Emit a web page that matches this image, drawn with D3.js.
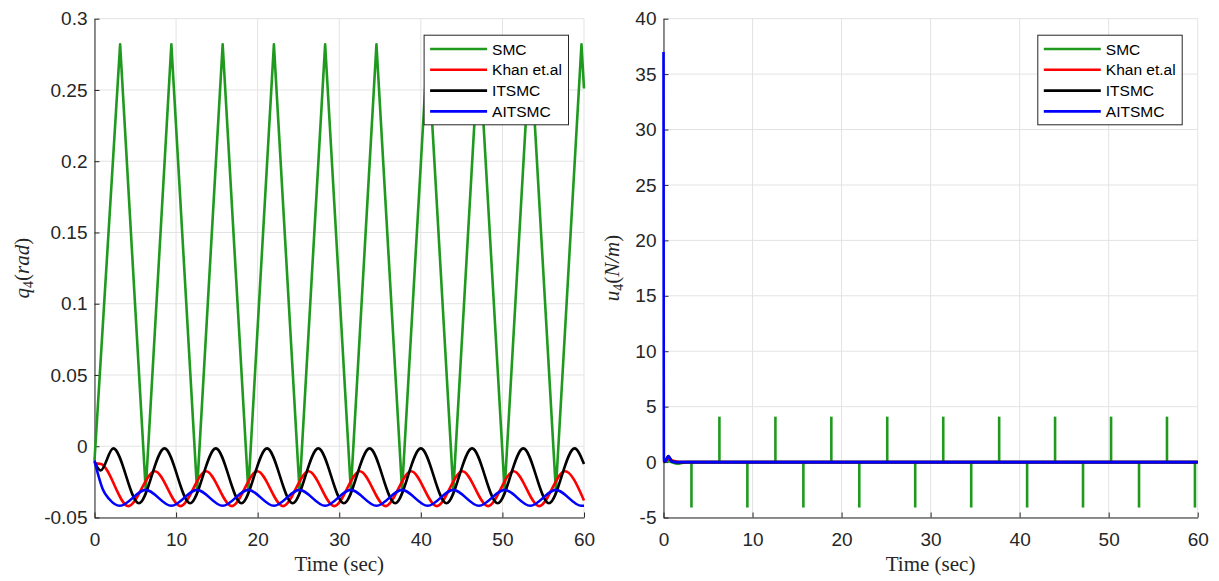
<!DOCTYPE html>
<html>
<head>
<meta charset="utf-8">
<script src="https://cdn.jsdelivr.net/npm/d3@7"></script>
<style>
  html, body { margin: 0; padding: 0; background: #fff; }
  svg { display: block; }
</style>
</head>
<body>
<svg id="chart" width="1219" height="581"></svg>
<script>
// ---------------- DATA ----------------
const seriesNames = ["SMC", "Khan et.al", "ITSMC", "AITSMC"];
const seriesColors = ["#1f9a1f", "#ff0000", "#000000", "#0000ff"];

const timeTicks = [0, 10, 20, 30, 40, 50, 60];
const qTicks = [-0.05, 0, 0.05, 0.1, 0.15, 0.2, 0.25, 0.3];
const qTickLabels = ["-0.05", "0", "0.05", "0.1", "0.15", "0.2", "0.25", "0.3"];
const uTicks = [-5, 0, 5, 10, 15, 20, 25, 30, 35, 40];
const uTickLabels = ["-5", "0", "5", "10", "15", "20", "25", "30", "35", "40"];

// q4 (rad) — left panel
const smcQ_t = [0, 3.14, 6.28, 9.42, 12.57, 15.71, 18.85, 21.99, 25.13, 28.27, 31.42, 34.56, 37.70, 40.84, 43.98, 47.12, 50.27, 53.41, 56.55, 59.69, 60];
const smcQ_v = [-0.010, 0.282, -0.031, 0.282, -0.031, 0.282, -0.031, 0.282, -0.031, 0.282, -0.031, 0.282, -0.031, 0.282, -0.031, 0.282, -0.031, 0.282, -0.031, 0.282, 0.251];

const khanQ_t = [0, 0.8, 4.15, 7.40, 10.54, 13.68, 16.83, 19.97, 23.11, 26.25, 29.39, 32.53, 35.68, 38.82, 41.96, 45.10, 48.24, 51.38, 54.52, 57.66, 60];
const khanQ_v = [-0.012, -0.0125, -0.042, -0.0175, -0.042, -0.0175, -0.042, -0.0175, -0.042, -0.0175, -0.042, -0.0175, -0.042, -0.0175, -0.042, -0.0175, -0.042, -0.0175, -0.042, -0.0175, -0.038];

const itsmcQ_t = [0, 0.75, 2.30, 5.44, 8.58, 11.72, 14.87, 18.01, 21.15, 24.29, 27.43, 30.57, 33.72, 36.86, 40.00, 43.14, 46.28, 49.42, 52.56, 55.70, 58.85, 60];
const itsmcQ_v = [-0.011, -0.017, -0.0015, -0.040, -0.0015, -0.040, -0.0015, -0.040, -0.0015, -0.040, -0.0015, -0.040, -0.0015, -0.040, -0.0015, -0.040, -0.0015, -0.040, -0.0015, -0.040, -0.0015, -0.0125];

const aitsmcQ_t = [0, 0.45, 1.0, 1.8, 3.10, 6.28, 9.42, 12.57, 15.71, 18.85, 21.99, 25.13, 28.27, 31.42, 34.56, 37.70, 40.84, 43.98, 47.12, 50.27, 53.41, 56.55, 59.69, 60];
const aitsmcQ_v = [-0.010, -0.020, -0.030, -0.037, -0.0418, -0.0306, -0.0418, -0.0306, -0.0418, -0.0306, -0.0418, -0.0306, -0.0418, -0.0306, -0.0418, -0.0306, -0.0418, -0.0306, -0.0418, -0.0306, -0.0418, -0.0306, -0.0418, -0.0418];

// u4 (N/m) — right panel
const smcU_t = [0, 0.4, 1.5, 2.6, 60];
const smcU_v = [0, 0.1, -0.15, 0, 0];
const smcSpike_t = [3.14, 6.28, 9.42, 12.57, 15.71, 18.85, 21.99, 25.13, 28.27, 31.42, 34.56, 37.70, 40.84, 43.98, 47.12, 50.27, 53.41, 56.55, 59.69];
const smcSpike_v = [-4.1, 4.1, -4.1, 4.1, -4.1, 4.1, -4.1, 4.1, -4.1, 4.1, -4.1, 4.1, -4.1, 4.1, -4.1, 4.1, -4.1, 4.1, -4.1];

const khanU_t = [0, 0.4, 1.0, 1.8, 60];
const khanU_v = [0, 0.3, 0.15, 0, 0];

const itsmcU_t = [0, 0.2, 0.55, 1.0, 1.5, 60];
const itsmcU_v = [0, 0.1, 0.55, 0.05, 0, 0];

const aitsmcU_t = [0, 0.05, 0.25, 0.55, 0.9, 1.3, 60];
const aitsmcU_v = [37, 0.1, 0.1, 0.55, 0.05, 0, 0];

// ---------------- LAYOUT ----------------
const svg = d3.select("#chart");
const axisColor = "#262626";
const gridColor = "#e3e3e3";
const tickFont = "'Liberation Sans', Arial, sans-serif";
const serifFont = "'Liberation Serif', 'Times New Roman', serif";

const panels = [
  {
    x: d3.scaleLinear().domain([0, 60]).range([94.5, 584]),
    y: d3.scaleLinear().domain([-0.05, 0.3]).range([517.5, 18.7]),
    yTicks: qTicks, yLabels: qTickLabels,
    series: [[smcQ_t, smcQ_v], [khanQ_t, khanQ_v], [itsmcQ_t, itsmcQ_v], [aitsmcQ_t, aitsmcQ_v]],
    curves: [d3.curveLinear, d3.curveMonotoneX, d3.curveMonotoneX, d3.curveMonotoneX],
    spikes: null,
    ylab: {x: 29, sym: "q", rest: ["(", "rad", ")"]}
  },
  {
    x: d3.scaleLinear().domain([0, 60]).range([663.5, 1197.7]),
    y: d3.scaleLinear().domain([-5, 40]).range([517.5, 18.7]),
    yTicks: uTicks, yLabels: uTickLabels,
    series: [[smcU_t, smcU_v], [khanU_t, khanU_v], [itsmcU_t, itsmcU_v], [aitsmcU_t, aitsmcU_v]],
    curves: [d3.curveMonotoneX, d3.curveMonotoneX, d3.curveMonotoneX, d3.curveMonotoneX],
    spikes: [smcSpike_t, smcSpike_v],
    ylab: {x: 619, sym: "u", rest: ["(", "N/m", ")"]}
  }
];

panels.forEach((p, pi) => {
  const g = svg.append("g");
  const [xa, xb] = p.x.range();
  const [ya, yb] = p.y.range();

  // grid
  g.append("g").selectAll("line").data(timeTicks).join("line")
    .attr("x1", d => p.x(d)).attr("x2", d => p.x(d))
    .attr("y1", ya).attr("y2", yb)
    .attr("stroke", gridColor).attr("stroke-width", 1);
  g.append("g").selectAll("line").data(p.yTicks).join("line")
    .attr("x1", xa).attr("x2", xb)
    .attr("y1", d => p.y(d)).attr("y2", d => p.y(d))
    .attr("stroke", gridColor).attr("stroke-width", 1);

  // axes
  const xAxis = d3.axisBottom(p.x).tickValues(timeTicks).tickFormat(d3.format("d"))
    .tickSize(-5).tickSizeOuter(0).tickPadding(15);
  const yAxis = d3.axisLeft(p.y).tickValues(p.yTicks).tickFormat((d, i) => p.yLabels[i])
    .tickSize(-5).tickSizeOuter(0).tickPadding(7);

  const gx = g.append("g").attr("transform", `translate(0,${ya})`).call(xAxis);
  const gy = g.append("g").attr("transform", `translate(${xa},0)`).call(yAxis);
  [gx, gy].forEach(a => {
    a.select(".domain").attr("stroke", axisColor).attr("stroke-width", 1);
    a.selectAll(".tick line").attr("stroke", axisColor);
    a.selectAll(".tick text").attr("fill", axisColor)
      .style("font-family", tickFont).style("font-size", "19px");
  });

  // lines
  const lineG = g.append("g");
  const straight = d3.line().x(d => p.x(d[0])).y(d => p.y(d[1]));
  p.series.forEach((s, si) => {
    const line = d3.line().x(d => p.x(d[0])).y(d => p.y(d[1])).curve(p.curves[si]);
    const pts = s[0].map((t, i) => [t, s[1][i]]);
    lineG.append("path").datum(pts)
      .attr("d", line)
      .attr("fill", "none")
      .attr("stroke", seriesColors[si])
      .attr("stroke-width", 2.6)
      .attr("stroke-linejoin", "round");
    if (si === 0 && p.spikes) {
      p.spikes[0].forEach((t, i) => {
        lineG.append("path").datum([[t, 0], [t, p.spikes[1][i]]])
          .attr("d", straight)
          .attr("fill", "none")
          .attr("stroke", seriesColors[0])
          .attr("stroke-width", 2.6);
      });
    }
  });

  // x label
  g.append("text")
    .attr("x", (xa + xb) / 2).attr("y", 571)
    .attr("text-anchor", "middle")
    .attr("fill", axisColor)
    .style("font-family", serifFont).style("font-size", "21px")
    .text("Time (sec)");

  // y label
  const yc = (ya + yb) / 2;
  const yl = g.append("text")
    .attr("transform", `translate(${p.ylab.x},${yc}) rotate(-90)`)
    .attr("text-anchor", "middle")
    .attr("fill", axisColor)
    .style("font-family", serifFont).style("font-size", "21px");
  yl.append("tspan").style("font-style", "italic").text(p.ylab.sym);
  yl.append("tspan").attr("dy", 4).style("font-size", "14px").text("4");
  yl.append("tspan").attr("dy", -4).text(p.ylab.rest[0]);
  yl.append("tspan").style("font-style", "italic").text(p.ylab.rest[1]);
  yl.append("tspan").text(p.ylab.rest[2]);

  // legend
  const lw = 144.4, lh = 89.6;
  const lx = xb - 16 - lw, ly = yb + 16;
  const lg = g.append("g").attr("transform", `translate(${lx},${ly})`);
  lg.append("rect").attr("x", 0.5).attr("y", 0.5).attr("width", lw).attr("height", lh)
    .attr("fill", "#fff").attr("stroke", axisColor).attr("stroke-width", 1);
  seriesNames.forEach((name, i) => {
    const cy = 14.3 + i * 20.8;
    lg.append("line").attr("x1", 6.5).attr("x2", 63.5).attr("y1", cy).attr("y2", cy)
      .attr("stroke", seriesColors[i]).attr("stroke-width", 2.6);
    lg.append("text").attr("x", 68.5).attr("y", cy).attr("dy", "0.36em")
      .attr("fill", "#000")
      .style("font-family", tickFont).style("font-size", "15.5px")
      .text(name);
  });
});
</script>
</body>
</html>
